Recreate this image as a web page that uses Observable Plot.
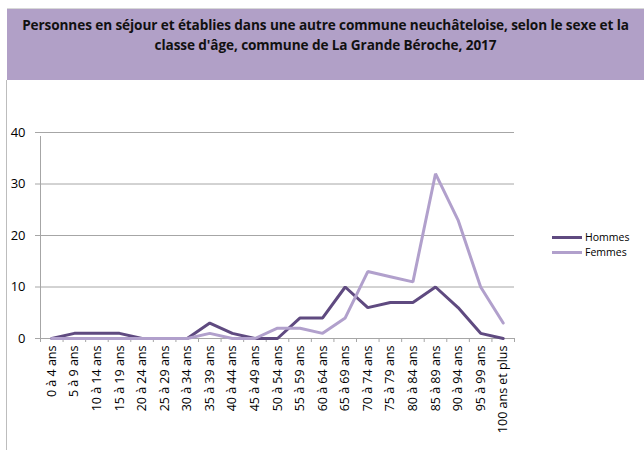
<!DOCTYPE html>
<html>
<head>
<meta charset="utf-8">
<script src="https://cdn.jsdelivr.net/npm/d3@7"></script>
<script src="https://cdn.jsdelivr.net/npm/@observablehq/plot@0.6"></script>
<style>
  html, body { margin: 0; padding: 0; background: #fff; }
  #wrap { position: relative; width: 644px; height: 450px; overflow: hidden; font-family: "Open Sans", sans-serif; }
  #title { position: absolute; left: 7px; top: 8px; width: 637px; height: 72px; background: #b1a0c7; border-top: 1px solid #d8d8d8; box-sizing: border-box;
    font-weight: bold; font-size: 13.6px; line-height: 20px; text-align: center; padding-top: 6px; color: #111; letter-spacing: -0.1px; }
  #border { position: absolute; left: 6px; top: 80px; width: 1px; height: 370px; background: #bdbdbd; }
  #chart { position: absolute; left: 0; top: 80px; }
  .leg { position: absolute; left: 552px; font-size: 10.5px; line-height: 12px; display: flex; align-items: center; }
  .leg span.sw { display: inline-block; width: 30px; height: 3px; margin-right: 3px; }
</style>
</head>
<body>
<div id="wrap">
  <div id="title">Personnes en séjour et établies dans une autre commune neuchâteloise, selon le sexe et la<br>classe d'âge, commune de La Grande Béroche, 2017</div>
  <div id="border"></div>
  <div id="chart"></div>
  <div class="leg" style="top:231px"><span class="sw" style="background:#5f4a80"></span>Hommes</div>
  <div class="leg" style="top:246px"><span class="sw" style="background:#b1a0cc"></span>Femmes</div>
</div>
<script>
const categories = ["0 à 4 ans","5 à 9 ans","10 à 14 ans","15 à 19 ans","20 à 24 ans","25 à 29 ans","30 à 34 ans","35 à 39 ans","40 à 44 ans","45 à 49 ans","50 à 54 ans","55 à 59 ans","60 à 64 ans","65 à 69 ans","70 à 74 ans","75 à 79 ans","80 à 84 ans","85 à 89 ans","90 à 94 ans","95 à 99 ans","100 ans et plus"];
const hommes = [0,1,1,1,0,0,0,3,1,0,0,4,4,10,6,7,7,10,6,1,0];
const femmes = [0,0,0,0,0,0,0,1,0,0,2,2,1,4,13,12,11,32,23,10,3];
const yTicks = [0,10,20,30,40];
const seriesNames = ["Hommes","Femmes"];
const colors = ["#5f4a80","#b1a0cc"];

const data = [];
categories.forEach((c,i) => {
  data.push({cat: c, v: hommes[i], s: seriesNames[0]});
  data.push({cat: c, v: femmes[i], s: seriesNames[1]});
});

const left = 40, right = 514;
const step = (right - left) / categories.length;

const plot = Plot.plot({
  width: 644,
  height: 370,
  marginLeft: left,
  marginRight: 644 - right,
  marginTop: 52,
  marginBottom: 112,
  style: {fontFamily: "Open Sans, sans-serif", fontSize: "11px", color: "#000"},
  x: {type: "point", domain: categories, padding: 0.5, round: false, label: null, axis: null},
  y: {type: "linear", domain: [0,40], label: null, axis: null},
  color: {domain: seriesNames, range: colors},
  marks: [
    Plot.ruleY(yTicks, {y: d => d, stroke: "#a6a6a6", strokeWidth: 1, strokeOpacity: 1}),
    Plot.ruleX([categories[0]], {x: d => d, dx: -step/2, y1: 0, y2: 40, stroke: "#a6a6a6", strokeOpacity: 1, insetBottom: -4}),
    Plot.ruleX(categories, {x: d => d, dx: -step/2, y1: 0, y2: 0, insetBottom: -4, stroke: "#a6a6a6", strokeOpacity: 1}),
    Plot.ruleX([categories[categories.length-1]], {x: d => d, dx: step/2, y1: 0, y2: 0, insetBottom: -4, stroke: "#a6a6a6", strokeOpacity: 1}),
    Plot.axisX({tickSize: 0, tickRotate: -90, tickPadding: 7, fontSize: 12.5, fill: "#000"}),
    Plot.axisY({ticks: yTicks, tickSize: 5, tickPadding: 10, stroke: "#a6a6a6", fontSize: 13, fill: "#000"}),
    Plot.line(data, {x: "cat", y: "v", stroke: "s", z: "s", strokeWidth: 3, strokeLinejoin: "miter"})
  ]
});
document.getElementById("chart").appendChild(plot);
</script>
</body>
</html>
